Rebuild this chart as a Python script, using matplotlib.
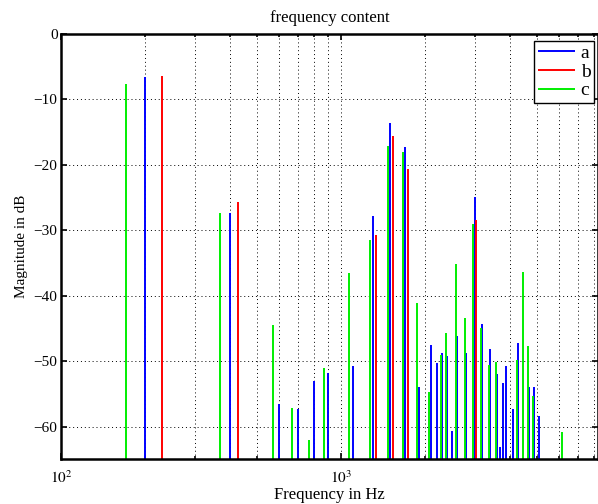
import matplotlib
matplotlib.use("Agg")
import matplotlib.pyplot as plt
from matplotlib.ticker import LogLocator, FixedLocator, NullFormatter

plt.rcParams['font.family'] = ['Liberation Serif', 'DejaVu Serif']
plt.rcParams['mathtext.fontset'] = 'stix'

# series a (blue)
freq_a = [200, 400, 600, 700, 800, 900, 1100, 1300, 1500, 1700, 1900, 2100, 2200, 2300,
          2400, 2500, 2600, 2800, 3000, 3200, 3400, 3600, 3700, 3800, 3900, 4100, 4300,
          4700, 4900, 5100]
mag_a = [-6.5, -27.4, -56.5, -57.3, -53.1, -51.8, -50.8, -27.8, -13.6, -17.3, -53.9, -47.5,
         -50.3, -48.7, -49.2, -60.7, -46.1, -48.8, -24.9, -44.3, -48.1, -52.0, -63.1, -53.4,
         -50.8, -57.3, -47.3, -54.0, -53.9, -58.4]

# series b (red)
freq_b = [230, 430, 1330, 1530, 1730, 3030]
mag_b = [-6.4, -25.7, -30.7, -15.6, -20.7, -28.5]

# series c (green)
freq_c = [170, 370, 570, 670, 770, 870, 1070, 1270, 1470, 1670, 1870, 2070, 2270, 2370,
          2570, 2770, 2970, 3170, 3370, 3570, 4270, 4470, 4670, 4870, 6170]
mag_c = [-7.7, -27.4, -44.5, -57.2, -62.1, -51.0, -36.6, -31.5, -17.1, -18.1, -41.1, -54.7,
         -49.0, -45.7, -35.2, -43.4, -29.0, -44.9, -50.6, -50.1, -49.9, -36.4, -47.7, -55.4,
         -60.8]

labels = ["a", "b", "c"]
colors = ["#0000ff", "#ff0000", "#00ee00"]

Y_BOTTOM, Y_TOP = -65, 0
X_LEFT, X_RIGHT = 100, 8280

fig = plt.figure(figsize=(5.98, 5.04), dpi=100)
ax = fig.add_axes([61/598, 1 - 459.3/504, 537/598, (459.3 - 34)/504])

for f, m, c, lab in zip([freq_a, freq_b, freq_c], [mag_a, mag_b, mag_c], colors, labels):
    ax.vlines(f, Y_BOTTOM, m, colors=c, linewidth=1.4, label=lab)

ax.set_xscale("log")
ax.set_xlim(X_LEFT, X_RIGHT)
ax.set_ylim(Y_BOTTOM, Y_TOP)
ax.set_yticks(range(-60, 1, 10))
ax.xaxis.set_major_locator(FixedLocator([100, 1000]))
ax.xaxis.set_minor_locator(LogLocator(base=10, subs=range(2, 10), numticks=20))
ax.xaxis.set_minor_formatter(NullFormatter())
ax.set_xticklabels([r"$10^2$", r"$10^3$"], fontsize=12)

ax.grid(True, which="major", color="k", linestyle=(0, (1, 3)), linewidth=0.7)
ax.grid(True, which="minor", axis="x", color="k", linestyle=(0, (1, 3)), linewidth=0.7)

ax.tick_params(which="both", direction="in", top=True, right=True, labelsize=11, width=1.2)
ax.tick_params(which="major", length=4)
ax.tick_params(axis="y", which="major", pad=2.5)
ax.tick_params(axis="x", which="major", pad=7)
ax.tick_params(which="minor", length=2.5)
for s in ax.spines.values():
    s.set_linewidth(1.8)

ax.set_title("frequency content", fontsize=12, pad=9)
ax.set_xlabel("Frequency in Hz", fontsize=12, labelpad=1)
ax.set_ylabel("Magnitude in dB", fontsize=11, labelpad=4)

leg = ax.legend(loc="upper right", bbox_to_anchor=(0.993, 0.984), borderaxespad=0,
                fancybox=False, edgecolor="k", framealpha=1, fontsize=14,
                handlelength=1.9, handletextpad=0.3, labelspacing=0.05, borderpad=0.2)
leg.get_frame().set_linewidth(1.0)

fig.savefig("out.png", dpi=100)
